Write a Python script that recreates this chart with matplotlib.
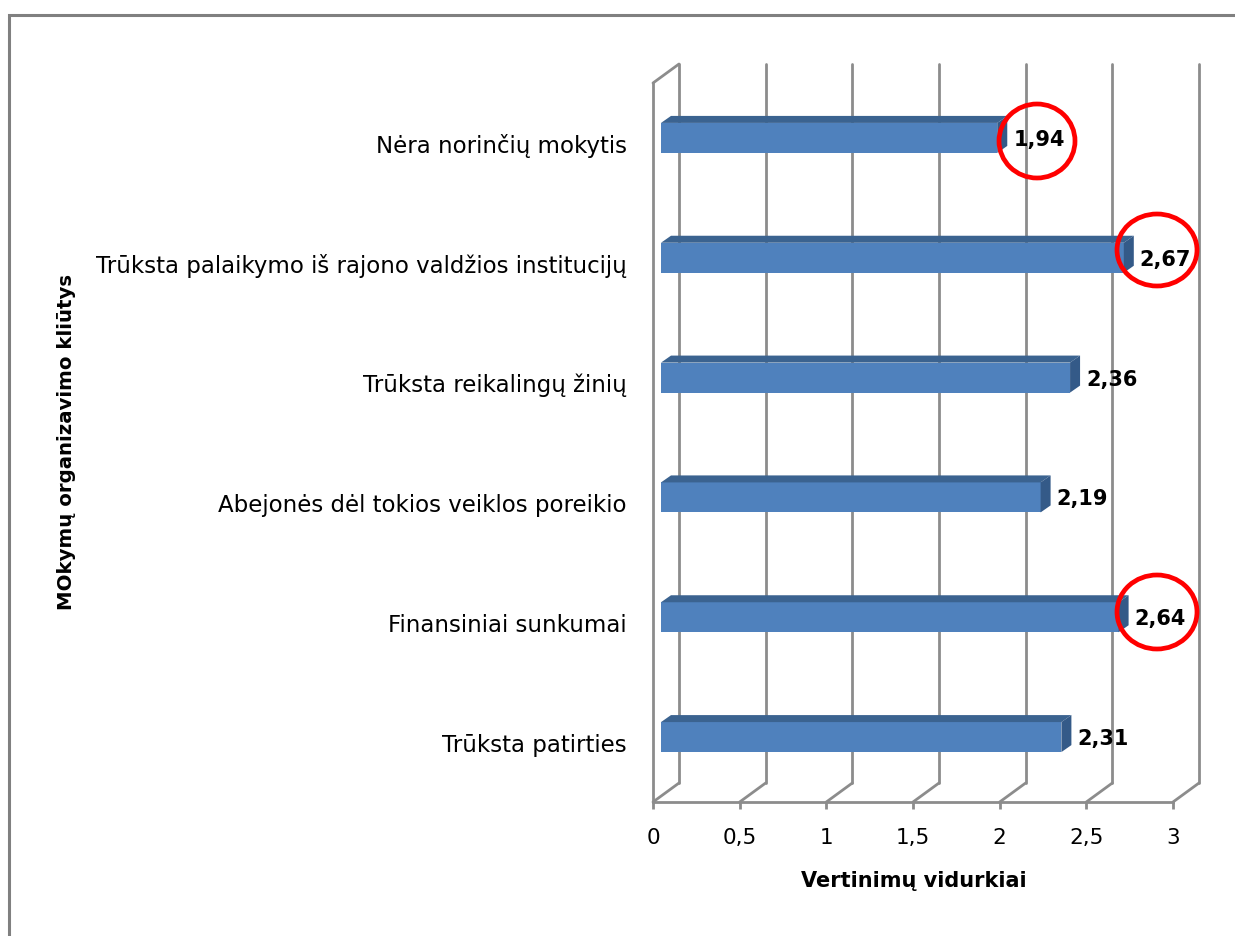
import matplotlib
matplotlib.use("Agg")
import matplotlib.pyplot as plt
from matplotlib.patches import Ellipse, Polygon

plt.rcParams['font.family'] = ['DejaVu Sans']

categories = ["Trūksta patirties", "Finansiniai sunkumai",
              "Abejonės dėl tokios veiklos poreikio", "Trūksta reikalingų žinių",
              "Trūksta palaikymo iš rajono valdžios institucijų", "Nėra norinčių mokytis"]
values = [2.31, 2.64, 2.19, 2.36, 2.67, 1.94]
value_labels = ["2,31", "2,64", "2,19", "2,36", "2,67", "1,94"]
ticks = [0, 0.5, 1, 1.5, 2, 2.5, 3]
tick_labels = ["0", "0,5", "1", "1,5", "2", "2,5", "3"]
circled = ["1,94", "2,67", "2,64"]

W, H = 1235, 936
LEFT, RIGHT, TOP, BOTTOM = 653, 1173, 83, 802
sx = 3 / (RIGHT - LEFT)
sy = 6 / (BOTTOM - TOP)

GRID = '#8c8c8c'
FRONT = '#4f81bd'
DARK = '#3b6390'
SIDE = '#345a88'

fig = plt.figure(figsize=(W / 100, H / 100), dpi=100)
ax = fig.add_axes([LEFT / W, 1 - BOTTOM / H, (RIGHT - LEFT) / W, (BOTTOM - TOP) / H])
ax.set_xlim(0, 3)
ax.set_ylim(0, 6)
ax.patch.set_alpha(0)
for s in ax.spines.values():
    s.set_visible(False)
ax.spines['bottom'].set_visible(True)
ax.spines['bottom'].set_color(GRID)
ax.spines['bottom'].set_linewidth(2)

# walls of the 3d box
wx, wy = 26 * sx, 19 * sy
line = dict(color=GRID, lw=2, clip_on=False, zorder=1, solid_capstyle='round')
ax.plot([0, 0], [0, 6], **line)
ax.plot([0, wx], [6, 6 + wy], **line)
for t in ticks:
    ax.plot([t, t + wx], [0, wy], **line)
    ax.plot([t + wx, t + wx], [wy, 6 + wy], **line)

# bars with top and side faces
y_pos = [i + 0.5 + 5 * sy for i in range(len(values))]
bar_h = 30 * sy
x0 = 8 * sx
dx, dy = 10 * sx, 7 * sy
ax.barh(y_pos, values, height=bar_h, left=x0, color=FRONT, zorder=3, clip_on=False)
for y, v, lab in zip(y_pos, values, value_labels):
    up = y + bar_h / 2
    lo = y - bar_h / 2
    end = x0 + v
    ax.add_patch(Polygon([(x0, up), (end, up), (end + dx, up + dy), (x0 + dx, up + dy)],
                         fc=DARK, ec='none', zorder=3, clip_on=False))
    ax.add_patch(Polygon([(end, up), (end + dx, up + dy), (end + dx, lo + dy), (end, lo)],
                         fc=SIDE, ec='none', zorder=3, clip_on=False))
    ax.text(end + 16 * sx, y - 2 * sy, lab, ha='left', va='center', fontsize=15,
            fontweight='bold', color='black', zorder=5)

ax.set_xticks(ticks)
ax.set_xticklabels(tick_labels, fontsize=15.5)
ax.tick_params(axis='x', length=5, width=2, color=GRID, pad=14)
ax.set_yticks([])
for y, c in zip(y_pos, categories):
    ax.text(-26 * sx, y - 8 * sy, c, ha='right', va='center', fontsize=16.5)

# overlay in pixel coordinates: frame, axis titles, red circles
ov = fig.add_axes([0, 0, 1, 1])
ov.set_xlim(0, W)
ov.set_ylim(H, 0)
ov.axis('off')
ov.patch.set_alpha(0)
ov.plot([9, 9, W], [H, 15, 15], color='#808080', lw=2.2, solid_joinstyle='miter')
ov.text(914, 881, "Vertinimų vidurkiai", ha='center', va='center', fontsize=15, fontweight='bold')
ov.text(67, 442, "MOkymų organizavimo kliūtys", ha='center', va='center', rotation=90,
        fontsize=14.2, fontweight='bold')
for lab, (cx, cy, w, h) in zip(circled, [(1037, 141, 76, 74), (1157, 250, 80, 72), (1157, 612, 80, 74)]):
    ov.add_patch(Ellipse((cx, cy), w, h, fc='none', ec='#ff0000', lw=3.4, zorder=6))

fig.savefig("out.png", dpi=100, facecolor='white')
